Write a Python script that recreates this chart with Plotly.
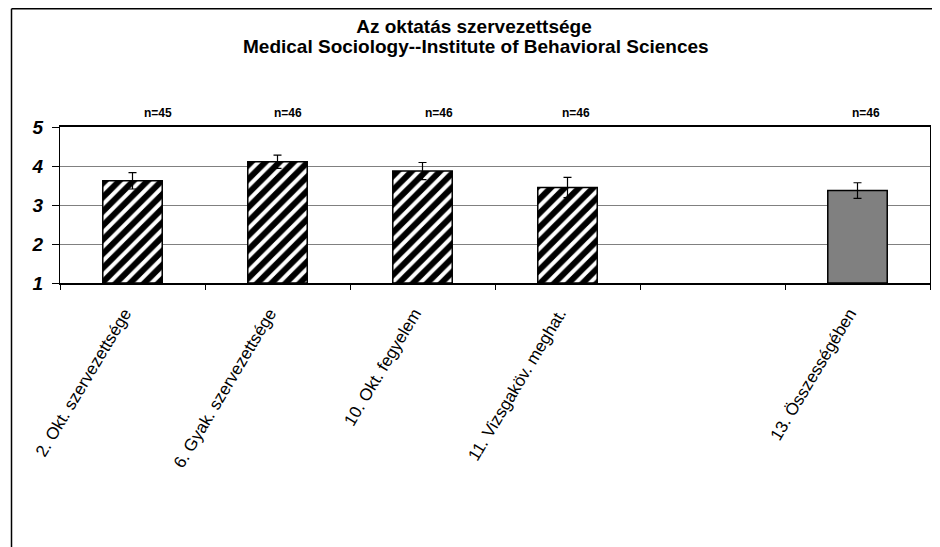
import plotly.graph_objects as go

categories = ["2. Okt. szervezettsége", "6. Gyak. szervezettsége", "10. Okt. fegyelem",
              "11. Vizsgaköv. meghat.", " ", "13. Összességében"]
item_cats = ["2. Okt. szervezettsége", "6. Gyak. szervezettsége", "10. Okt. fegyelem",
             "11. Vizsgaköv. meghat."]
item_means = [3.62, 4.11, 3.87, 3.45]
item_errors = [0.21, 0.17, 0.22, 0.26]
item_n = ["n=45", "n=46", "n=46", "n=46"]
total_cat = ["13. Összességében"]
total_mean = [3.37]
total_error = [0.20]
total_n = ["n=46"]
y_ticks = [1, 2, 3, 4, 5]
title_line1 = "Az oktatás szervezettsége"
title_line2 = "Medical Sociology--Institute of Behavioral Sciences"

FONT = "Liberation Sans, Arial"
W, H = 940, 547
OFF = 8  # page body margin
L, R, T, B = 60 - OFF, 18, 127 - OFF, 547 - (283 - OFF)
PW = W - L - R
PH = H - T - B
BOT = H - B  # plot bottom in figure px


def py(screen_y):
    return (BOT - (screen_y - OFF)) / PH


def px(screen_x):
    return (screen_x - OFF - L) / PW


fig = go.Figure()
fig.add_trace(go.Bar(
    x=item_cats, y=[m - 1 for m in item_means], base=1, width=0.41,
    marker=dict(color="white", opacity=1, line=dict(color="black", width=1.5),
                pattern=dict(shape="/", fgcolor="#000000", bgcolor="#ffffff", fgopacity=1,
                             fillmode="replace", size=10, solidity=0.6)),
    error_y=dict(type="data", array=item_errors, color="black", thickness=1.2, width=4),
    showlegend=False,
))
fig.add_trace(go.Bar(
    x=total_cat, y=[m - 1 for m in total_mean], base=1, width=0.41,
    marker=dict(color="#808080", opacity=1, line=dict(color="black", width=1.5)),
    error_y=dict(type="data", array=total_error, color="black", thickness=1.2, width=4),
    showlegend=False,
))

n_y = py(113)
n_shifts = [25, 10, 16, 8]
for c, t, s in zip(item_cats, item_n, n_shifts):
    fig.add_annotation(x=c, y=n_y, yref="paper", yanchor="middle", text=t, showarrow=False, xshift=s,
                       font=dict(family=FONT, size=12, color="black", weight="bold"))
for c, t in zip(total_cat, total_n):
    fig.add_annotation(x=c, y=n_y, yref="paper", yanchor="middle", text=t, showarrow=False, xshift=8,
                       font=dict(family=FONT, size=12, color="black", weight="bold"))

# second title line
fig.add_annotation(x=px(476), xref="paper", y=py(46.7), yref="paper",
                   xanchor="center", yanchor="middle", text=title_line2, showarrow=False,
                   font=dict(family=FONT, size=19, color="black", weight="bold"))

# outer frame (top and left edges visible)
fx = px(11.5)
fy_top = (BOT - 0.75) / PH
fig.add_shape(type="line", xref="paper", yref="paper", x0=fx, x1=1.05, y0=fy_top, y1=fy_top,
              line=dict(color="black", width=1.5))
fig.add_shape(type="line", xref="paper", yref="paper", x0=fx, x1=fx, y0=fy_top, y1=-1.9,
              line=dict(color="black", width=1.5))

fig.update_layout(
    width=W, height=H,
    margin=dict(l=L, r=R, t=T, b=B, autoexpand=False),
    paper_bgcolor="white", plot_bgcolor="white",
    barmode="overlay",
    title=dict(text=title_line1, x=(474 - OFF) / W, xanchor="center", y=1 - (26.7 - OFF) / H,
               yanchor="middle", yref="container", xref="container",
               font=dict(family=FONT, size=19, color="black", weight="bold")),
    font=dict(family=FONT, color="black"),
)
fig.update_xaxes(
    type="category", categoryorder="array", categoryarray=categories,
    range=[-0.5, 5.5], automargin=False,
    tickangle=-59, tickson="boundaries", ticks="outside", ticklen=5, tickcolor="black",
    ticklabelshift=-8, ticklabelstandoff=12,
    tickfont=dict(family=FONT, size=17, color="black"),
    showline=True, linecolor="black", linewidth=1.5, mirror=True,
    showgrid=False,
)
fig.update_yaxes(
    range=[1, 5], tickvals=y_ticks, ticks="outside", ticklen=7, tickcolor="black", automargin=False,
    ticklabelstandoff=5,
    tickfont=dict(family=FONT, size=19, color="black", weight="bold", style="italic"),
    showline=True, linecolor="black", linewidth=1.2, mirror=True,
    showgrid=True, gridcolor="#808080", gridwidth=1,
)
fig.write_html("out.html")
